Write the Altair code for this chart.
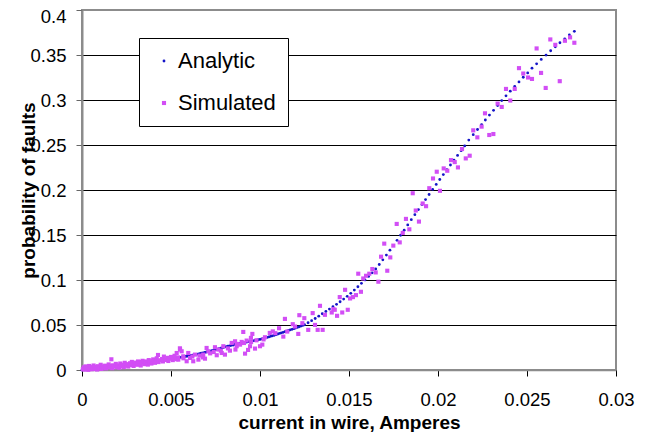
import altair as alt
import pandas as pd

# ---------------- data ----------------
series_names = ["Analytic", "Simulated"]
x_ticks = [0, 0.005, 0.01, 0.015, 0.02, 0.025, 0.03]
y_ticks = [0, 0.05, 0.1, 0.15, 0.2, 0.25, 0.3, 0.35, 0.4]

# analytic curve (dotted), low part
analytic_x_low = [0, 0.00025, 0.0005, 0.00075, 0.001, 0.00125, 0.0015, 0.00175, 0.002, 0.00225,
                  0.0025, 0.00275, 0.003, 0.00325, 0.0035, 0.00375, 0.004, 0.00425, 0.0045, 0.00475]
analytic_y_low = [0.0000, 0.0004, 0.0009, 0.0013, 0.0018, 0.0023, 0.0028, 0.0034, 0.0040, 0.0046,
                  0.0052, 0.0058, 0.0065, 0.0072, 0.0079, 0.0086, 0.0093, 0.0101, 0.0109, 0.0117]

analytic_x_mid = [0.0050, 0.0051, 0.0052, 0.0053, 0.0054, 0.0055, 0.0056, 0.0057, 0.0058, 0.0059,
                  0.0060, 0.0061, 0.0062, 0.0063, 0.0064, 0.0065, 0.0066, 0.0067, 0.0068, 0.0069,
                  0.0070, 0.0071, 0.0072, 0.0073, 0.0074, 0.0075, 0.0076, 0.0077, 0.0078, 0.0079,
                  0.0080, 0.0081, 0.0082, 0.0083, 0.0084, 0.0085, 0.0086, 0.0087, 0.0088, 0.0089,
                  0.0090, 0.0091, 0.0092, 0.0093, 0.0094, 0.0095, 0.0096, 0.0097, 0.0098, 0.0099,
                  0.0100, 0.0101, 0.0102, 0.0103, 0.0104, 0.0105, 0.0106, 0.0107, 0.0108, 0.0109,
                  0.0110, 0.0111, 0.0112, 0.0113, 0.0114, 0.0115, 0.0116, 0.0117, 0.0118, 0.0119,
                  0.0120, 0.0121, 0.0122, 0.0123, 0.0124, 0.0125]
analytic_y_mid = [0.0125, 0.0128, 0.0131, 0.0134, 0.0137, 0.0140, 0.0143, 0.0146, 0.0150, 0.0153,
                  0.0157, 0.0161, 0.0165, 0.0169, 0.0173, 0.0177, 0.0182, 0.0186, 0.0191, 0.0195,
                  0.0200, 0.0205, 0.0210, 0.0216, 0.0221, 0.0226, 0.0232, 0.0237, 0.0243, 0.0248,
                  0.0254, 0.0259, 0.0264, 0.0269, 0.0274, 0.0278, 0.0283, 0.0287, 0.0292, 0.0296,
                  0.0300, 0.0304, 0.0308, 0.0312, 0.0316, 0.0320, 0.0324, 0.0328, 0.0332, 0.0336,
                  0.0340, 0.0345, 0.0350, 0.0356, 0.0362, 0.0368, 0.0374, 0.0380, 0.0386, 0.0393,
                  0.0400, 0.0406, 0.0413, 0.0419, 0.0426, 0.0432, 0.0439, 0.0446, 0.0452, 0.0459,
                  0.0466, 0.0473, 0.0480, 0.0488, 0.0495, 0.0503]

analytic_x_high = [0.0127, 0.0129, 0.0131, 0.0133, 0.0135, 0.0137, 0.0139, 0.0141, 0.0143, 0.0145,
                   0.0147, 0.0149, 0.0151, 0.0153, 0.0155, 0.0157, 0.0159, 0.0161, 0.0163, 0.0165,
                   0.0167, 0.0169, 0.0171, 0.0173, 0.0175, 0.0177, 0.0179, 0.0181, 0.0183, 0.0185,
                   0.0187, 0.0189, 0.0191, 0.0193, 0.0195, 0.0197, 0.0199, 0.0201, 0.0203, 0.0205,
                   0.0207, 0.0209, 0.0211, 0.0213, 0.0215]
analytic_y_high = [0.0525, 0.0548, 0.0572, 0.0598, 0.0625, 0.0651, 0.0677, 0.0703, 0.0730, 0.0758,
                   0.0788, 0.0819, 0.0852, 0.0888, 0.0925, 0.0963, 0.1001, 0.1040, 0.1080, 0.1122,
                   0.1172, 0.1224, 0.1277, 0.1331, 0.1385, 0.1441, 0.1497, 0.1554, 0.1612, 0.1670,
                   0.1726, 0.1782, 0.1838, 0.1894, 0.1950, 0.2006, 0.2062, 0.2117, 0.2171, 0.2225,
                   0.2278, 0.2331, 0.2384, 0.2437, 0.2490]

analytic_x_top = [0.02173, 0.02198, 0.02222, 0.02245, 0.02266, 0.02289, 0.02312, 0.02335, 0.02358,
                  0.02382, 0.02406, 0.02431, 0.02455, 0.02479, 0.02504, 0.02528, 0.02554, 0.02580,
                  0.02607, 0.02633, 0.02659, 0.02685, 0.02712, 0.02738, 0.02766]
analytic_y_top = [0.2555, 0.2615, 0.2672, 0.2727, 0.2778, 0.2832, 0.2885, 0.2938, 0.2994,
                  0.3046, 0.3098, 0.3150, 0.3201, 0.3253, 0.3301, 0.3354, 0.3402, 0.3451,
                  0.3499, 0.3547, 0.3591, 0.3636, 0.3680, 0.3722, 0.3763]

# simulated points (squares), region by region
sim_band = [
    (0.00005, 0.0010), (0.0001, 0.0030), (0.00012, 0.0005), (0.00018, 0.0020), (0.0002, 0.0040),
    (0.00025, 0.0010), (0.0003, 0.0028), (0.00035, 0.0002), (0.0004, 0.0045), (0.00042, 0.0015),
    (0.0005, 0.0032), (0.00055, 0.0008), (0.0006, 0.0022), (0.00065, 0.0050), (0.0007, 0.0012),
    (0.00075, 0.0035), (0.0008, 0.0025), (0.00085, 0.0005), (0.0009, 0.0042), (0.00095, 0.0018),
    (0.0010, 0.0030), (0.00105, 0.0058), (0.0011, 0.0012), (0.00115, 0.0040), (0.0012, 0.0025),
    (0.0013, 0.0048), (0.00135, 0.0018), (0.0014, 0.0035), (0.0015, 0.0062), (0.00155, 0.0028),
    (0.0016, 0.0045), (0.00165, 0.0119), (0.0017, 0.0020), (0.00175, 0.0052), (0.0018, 0.0038),
    (0.0019, 0.0068), (0.00195, 0.0030), (0.0020, 0.0050), (0.0021, 0.0025), (0.00215, 0.0072),
    (0.0022, 0.0042), (0.0023, 0.0058), (0.00235, 0.0032), (0.0024, 0.0080), (0.0025, 0.0048),
    (0.00255, 0.0065), (0.0026, 0.0038), (0.0027, 0.0075), (0.00275, 0.0055), (0.0028, 0.0090),
    (0.0029, 0.0045), (0.00295, 0.0068), (0.0030, 0.0082), (0.0031, 0.0058), (0.00315, 0.0095),
    (0.0032, 0.0072), (0.0033, 0.0050), (0.00335, 0.0088), (0.0034, 0.0102), (0.0035, 0.0065),
    (0.00355, 0.0080), (0.0036, 0.0095), (0.0037, 0.0060), (0.00375, 0.0110), (0.0038, 0.0085),
    (0.0039, 0.0072), (0.00395, 0.0100), (0.0040, 0.0118), (0.0041, 0.0080), (0.00415, 0.0095),
    (0.0042, 0.0130), (0.00427, 0.0167), (0.0043, 0.0088), (0.0044, 0.0108), (0.0045, 0.0122),
    (0.00455, 0.0095), (0.0046, 0.0149), (0.0047, 0.0112), (0.0048, 0.0135), (0.00485, 0.0100),
    (0.0049, 0.0125), (0.0050, 0.0145), (0.0051, 0.0110), (0.00515, 0.0132), (0.0052, 0.0158),
    (0.0053, 0.0120), (0.00532, 0.0189), (0.0054, 0.0140), (0.00541, 0.0115), (0.0055, 0.0241),
    (0.00551, 0.0227),
]
sim_mid = [
    (0.00560, 0.0208), (0.00569, 0.0152), (0.00570, 0.0130), (0.00588, 0.0097), (0.00597, 0.0189),
    (0.00607, 0.0134), (0.00620, 0.0150), (0.00625, 0.0097), (0.00635, 0.0171), (0.00654, 0.0115),
    (0.00660, 0.0160), (0.00680, 0.0140), (0.00681, 0.0171), (0.00691, 0.0126), (0.00700, 0.0245),
    (0.00710, 0.0208), (0.00720, 0.0185), (0.00740, 0.0200), (0.00747, 0.0253), (0.00757, 0.0164),
    (0.00766, 0.0227), (0.00780, 0.0215), (0.00785, 0.0189), (0.00794, 0.0264), (0.00803, 0.0171),
    (0.00820, 0.0240), (0.00831, 0.0215), (0.00841, 0.0301), (0.00860, 0.0319), (0.00862, 0.0227),
    (0.00869, 0.0264), (0.00870, 0.0290), (0.00888, 0.0282), (0.00897, 0.0312), (0.00906, 0.0423),
    (0.00910, 0.0300), (0.00916, 0.0182), (0.00925, 0.0327), (0.00933, 0.0223), (0.00944, 0.0264),
    (0.00949, 0.0357), (0.00950, 0.0310), (0.00957, 0.0401), (0.00972, 0.0238), (0.00980, 0.0330),
    (0.01000, 0.0264), (0.01013, 0.0282), (0.01020, 0.0340), (0.01028, 0.0364), (0.01055, 0.0412),
    (0.01072, 0.0429), (0.01086, 0.0409),
]
sim_knee = [
    (0.01107, 0.0464), (0.01131, 0.0371), (0.01140, 0.0568), (0.01153, 0.0427), (0.01184, 0.0509),
    (0.01197, 0.0483), (0.01215, 0.0401), (0.01221, 0.0609), (0.01238, 0.0520), (0.01249, 0.0576),
    (0.01271, 0.0446), (0.01296, 0.0632), (0.01309, 0.0501), (0.01324, 0.0446), (0.01337, 0.0713),
    (0.01352, 0.0446), (0.01365, 0.0613), (0.01403, 0.0639), (0.01412, 0.0676), (0.01420, 0.0669),
    (0.01433, 0.0602), (0.01448, 0.0810), (0.01462, 0.0639), (0.01478, 0.0891), (0.01493, 0.0669),
    (0.01506, 0.0795), (0.01522, 0.0810), (0.01539, 0.0832), (0.01552, 0.1070), (0.01567, 0.0869),
    (0.01580, 0.1017), (0.01596, 0.1047), (0.01614, 0.1070), (0.01631, 0.1122), (0.01650, 0.1084),
    (0.01665, 0.0981), (0.01680, 0.1259), (0.01698, 0.1404), (0.01715, 0.1103), (0.01732, 0.1251),
    (0.01749, 0.1382), (0.01768, 0.1623), (0.01785, 0.1418), (0.01802, 0.1523), (0.01820, 0.1679),
    (0.01839, 0.1563),
]
sim_steep = [
    (0.01858, 0.1964), (0.01875, 0.1772), (0.01893, 0.1649), (0.01914, 0.1850), (0.01933, 0.1820),
    (0.01951, 0.2020), (0.01972, 0.2128), (0.01993, 0.2203), (0.02011, 0.1991), (0.02032, 0.2240),
    (0.02052, 0.2214), (0.02073, 0.2332), (0.02094, 0.2310), (0.02112, 0.2251), (0.02135, 0.2455),
    (0.02156, 0.2351), (0.02178, 0.2381), (0.02198, 0.2663), (0.02221, 0.2585), (0.02245, 0.2704),
    (0.02264, 0.2852), (0.02288, 0.2611), (0.02311, 0.2622), (0.02335, 0.2960),
]
sim_top = [
    (0.02358, 0.2923), (0.02382, 0.3123), (0.02406, 0.2994), (0.02431, 0.3123), (0.02455, 0.3354),
    (0.02479, 0.3294), (0.02506, 0.3250), (0.02528, 0.3234), (0.02554, 0.3573), (0.02579, 0.3301),
    (0.02605, 0.3134), (0.02631, 0.3673), (0.02659, 0.3613), (0.02684, 0.3209), (0.02713, 0.3658),
    (0.02742, 0.3696), (0.02766, 0.3636),
]

# ---------------- table ----------------
ax = analytic_x_low + analytic_x_mid + analytic_x_high + analytic_x_top
ay = analytic_y_low + analytic_y_mid + analytic_y_high + analytic_y_top
sim = sim_band + sim_mid + sim_knee + sim_steep + sim_top

df = pd.concat([
    pd.DataFrame({"x": ax, "y": ay, "series": series_names[0]}),
    pd.DataFrame({"x": [p[0] for p in sim], "y": [p[1] for p in sim], "series": series_names[1]}),
], ignore_index=True)
df["order"] = range(len(df))

FONT = "Liberation Sans"

legend = alt.Legend(
    title=None, orient="none", legendX=57, legendY=28,
    fillColor="white", strokeColor="black",
    padding=12, rowPadding=20, symbolOffset=2, labelOffset=3,
    labelFont=FONT, labelFontSize=22, labelColor="black",
    symbolStrokeWidth=0,
)

chart = alt.Chart(df).mark_point(filled=True, opacity=1, strokeWidth=0).encode(
    x=alt.X("x:Q", scale=alt.Scale(domain=[0, 0.03], nice=False, zero=False),
            axis=alt.Axis(values=x_ticks, format="~g", title="current in wire, Amperes",
                          grid=False, tickSize=6, tickColor="black", labelPadding=14,
                          domainColor="#8c8c8c", domainWidth=1.5,
                          titleY=58, titleBaseline="alphabetic")),
    y=alt.Y("y:Q", scale=alt.Scale(domain=[0, 0.4], nice=False),
            axis=alt.Axis(values=y_ticks, format="~g", title="probability of faults",
                          grid=True,
                          gridColor=alt.condition("datum.value >= 0.39", alt.value("#8c8c8c"), alt.value("black")),
                          labelOffset=alt.condition("datum.value >= 0.39", alt.value(6), alt.value(0)),
                          gridWidth=1, tickSize=6, tickColor="#666666", labelPadding=10,
                          domainColor="#8c8c8c", domainWidth=2,
                          titleX=-48, titleY=180, titleBaseline="alphabetic")),
    color=alt.Color("series:N", scale=alt.Scale(domain=series_names, range=["#1414c8", "#d24ef5"]), legend=legend),
    shape=alt.Shape("series:N", scale=alt.Scale(domain=series_names, range=["circle", "square"]), legend=legend),
    size=alt.Size("series:N", scale=alt.Scale(domain=series_names, range=[8, 17]), legend=legend),
    order=alt.Order("order:Q"),
).properties(
    width=534, height=360,
    background="white",
    autosize=alt.AutoSizeParams(type="none"),
    padding={"left": 74, "top": 2, "right": 45, "bottom": 62},
).configure_axis(
    labelFont=FONT, labelFontSize=18.5, labelColor="black",
    titleFont=FONT, titleFontSize=19, titleFontWeight="bold", titleColor="black",
    labelOverlap=False, labelFlush=False,
).configure_view(
    stroke="#8c8c8c", strokeWidth=2,
)

chart.save("out.html", embed_options={"renderer": "svg", "actions": False})
